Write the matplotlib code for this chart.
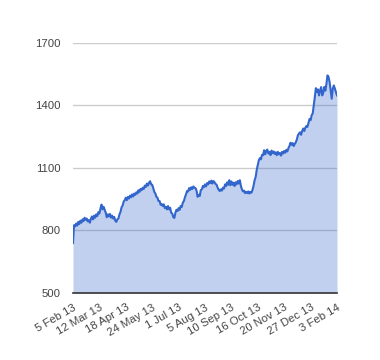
import matplotlib
matplotlib.use("Agg")
import matplotlib.pyplot as plt
import numpy as np

plt.rcParams['font.family'] = ['Liberation Sans', 'DejaVu Sans']

tick_labels = ["5 Feb 13", "12 Mar 13", "18 Apr 13", "24 May 13", "1 Jul 13",
               "5 Aug 13", "10 Sep 13", "16 Oct 13", "20 Nov 13", "27 Dec 13", "3 Feb 14"]
tick_step = 25

values = [
    738, 824, 818, 832, 822, 840, 830, 846, 836, 852,
    844, 860, 850, 856, 842, 848, 836, 856, 866, 852,
    870, 860, 876, 868, 886, 880, 904, 923, 900, 912,
    898, 884, 862, 876, 866, 878, 860, 870, 856, 864,
    846, 840, 852, 856, 876, 888, 910, 918, 938, 944,
    956, 944, 960, 952, 966, 958, 972, 962, 976, 970,
    982, 976, 992, 984, 998, 992, 1004, 998, 1014, 1008,
    1024, 1014, 1028, 1035, 1020, 1018, 1002, 984, 976, 960,
    956, 940, 940, 922, 926, 916, 924, 906, 912, 900,
    916, 900, 908, 884, 880, 862, 859, 884, 898, 892,
    906, 898, 916, 912, 932, 940, 958, 972, 988, 986,
    1002, 994, 1006, 998, 1010, 1004, 1002, 990, 960, 970,
    964, 992, 996, 1012, 1006, 1020, 1010, 1026, 1020, 1034,
    1026, 1038, 1024, 1036, 1030, 1022, 1018, 1004, 994, 988,
    996, 990, 1004, 1000, 1020, 1012, 1030, 1018, 1040, 1016,
    1034, 1018, 1028, 1012, 1030, 1020, 1036, 1024, 1040, 1012,
    996, 986, 990, 978, 984, 978, 986, 976, 984, 980,
    994, 1014, 1040, 1056, 1090, 1112, 1136, 1146, 1140, 1162,
    1160, 1184, 1164, 1180, 1187, 1168, 1176, 1160, 1182, 1170,
    1178, 1166, 1174, 1160, 1176, 1164, 1170, 1158, 1176, 1168,
    1180, 1172, 1186, 1178, 1194, 1204, 1220, 1210, 1218, 1204,
    1214, 1222, 1236, 1256, 1264, 1270, 1258, 1276, 1288, 1276,
    1292, 1300, 1296, 1316, 1334, 1328, 1352, 1360, 1399, 1439,
    1482, 1463, 1476, 1447, 1471, 1487, 1447, 1460, 1488, 1470,
    1503, 1543, 1535, 1511, 1471, 1431, 1479, 1495, 1479, 1462,
    1447,
]

y_ticks = [500, 800, 1100, 1400, 1700]

fig = plt.figure(figsize=(3.8, 3.6), dpi=100)
ax = fig.add_axes([73/380, 1-292.7/360, 264/380, 250/360])

x = np.arange(len(values))
ax.fill_between(x, 500, values, color='#3366cc', alpha=0.3, lw=0, zorder=2)
ax.plot(x, values, color='#3366cc', lw=1.5, zorder=3)

ax.set_xlim(0, len(values) - 1)
ax.set_ylim(500, 1700)
ax.set_yticks(y_ticks)
ax.set_yticklabels([str(v) for v in y_ticks])
for v in y_ticks[1:]:
    ax.axhline(v, color='#cccccc', lw=1, zorder=1)

ax.set_xticks([i * tick_step for i in range(len(tick_labels))])
ax.set_xticklabels(tick_labels, rotation=30, ha='right', rotation_mode='anchor')

for s in ['top', 'right', 'left']:
    ax.spines[s].set_visible(False)
ax.spines['bottom'].set_color('#333333')
ax.spines['bottom'].set_linewidth(1.2)
ax.spines['bottom'].set_zorder(4)

ax.tick_params(axis='both', length=0, labelsize=8.2, colors='#444444')
ax.tick_params(axis='y', pad=9)
ax.tick_params(axis='x', pad=7)

fig.savefig('out.png', dpi=100, facecolor='white')
